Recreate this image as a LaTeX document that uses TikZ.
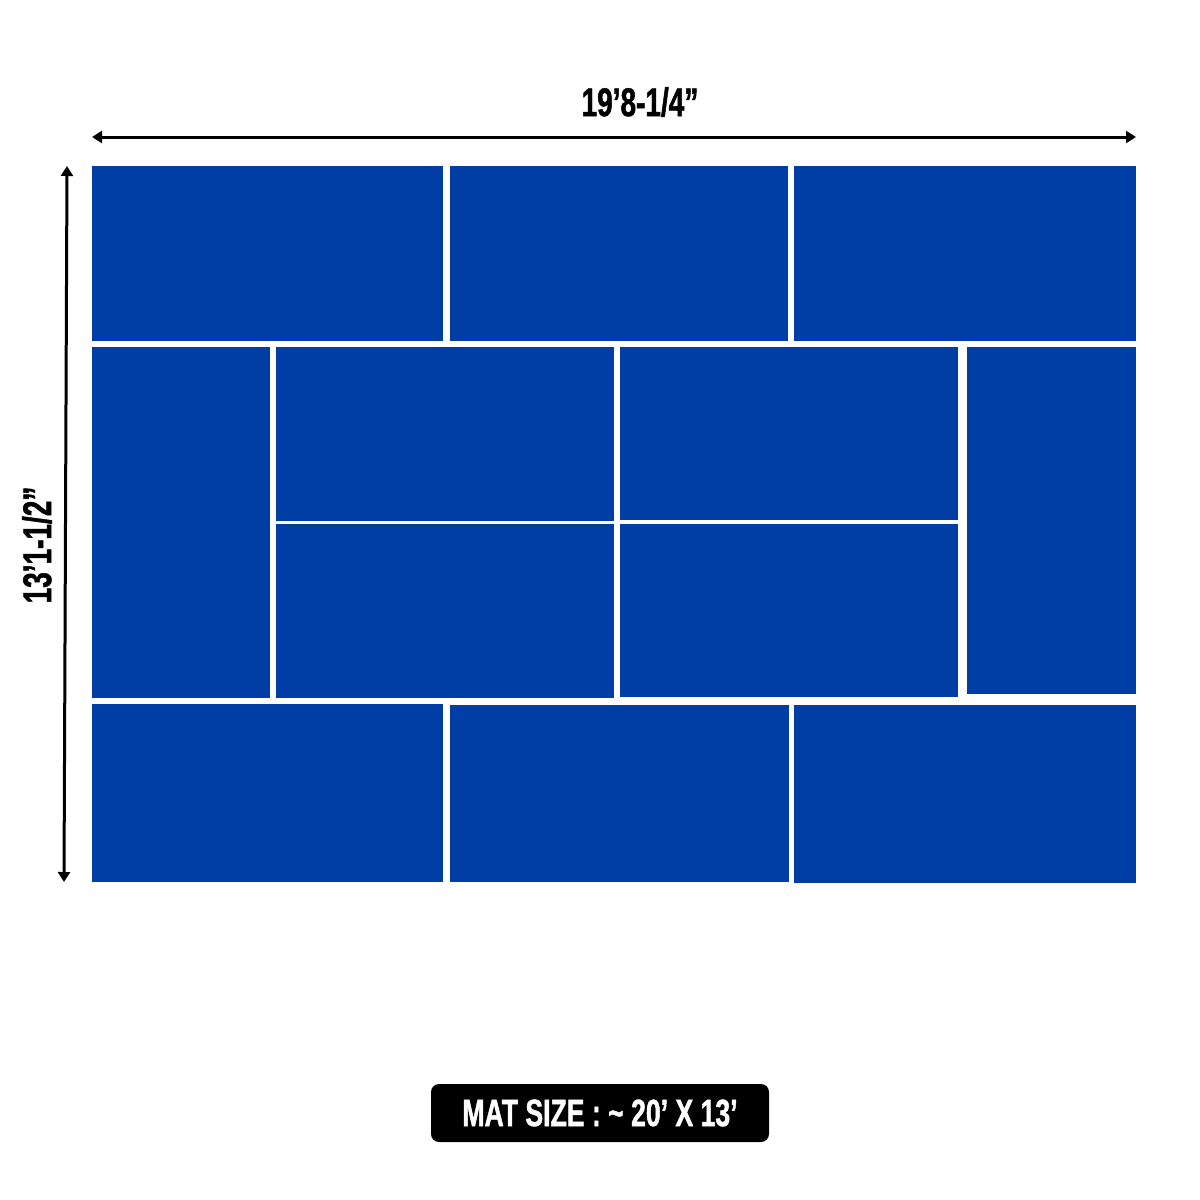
\documentclass[tikz,border=0pt]{standalone}
\usepackage{fontspec}
\newfontfamily\condfont[FakeStretch=0.70,FakeBold=1.2]{Liberation Sans}
\usetikzlibrary{arrows.meta}
\definecolor{matblue}{RGB}{0,62,166}
\tikzset{
  panel/.style={fill=matblue},
  dim/.style={line width=3pt, {Triangle[length=10pt,width=12pt]}-{Triangle[length=10pt,width=12pt]}},
  dimlabel/.style={font=\condfont\bfseries\fontsize{40}{40}\selectfont, text=black, inner sep=0pt}
}
\begin{document}
\begin{tikzpicture}[x=1pt,y=-1pt]
\useasboundingbox (0,0) rectangle (1200,1200);
\fill[white] (0,0) rectangle (1200,1200);
% top row
\fill[panel] (92,166) rectangle (443,341);
\fill[panel] (450,166) rectangle (788,341);
\fill[panel] (794,166) rectangle (1136,341);
% middle
\fill[panel] (92,347) rectangle (270,698);
\fill[panel] (276,347) rectangle (614,521);
\fill[panel] (620,347) rectangle (958,520);
\fill[panel] (967,347) rectangle (1136,694);
\fill[panel] (276,524) rectangle (614,698);
\fill[panel] (620,524) rectangle (958,697);
% bottom row
\fill[panel] (92,704) rectangle (443,882);
\fill[panel] (450,705) rectangle (789,882);
\fill[panel] (794,705) rectangle (1136,883);
% dimension arrows
\coordinate (hl) at (92,137);
\coordinate (hr) at (1136,137);
\draw[dim] (hl) -- (hr);
\coordinate (vt) at (67,166);
\coordinate (vb) at (64,882);
\draw[dim] (vt) -- (vb);
\node[dimlabel] (wlabel) at (640,102) {19’8-1/4”};
\node[dimlabel, rotate=90] (hlabel) at (37,545) {13’1-1/2”};
% bottom label
\node[fill=black, rounded corners=8pt, minimum width=338pt, minimum height=58pt, inner sep=0pt,
      text=white, font=\condfont\bfseries\fontsize{38}{38}\selectfont] (mat) at (600,1113) {MAT SIZE : \char"007E{} 20’ X 13’};
\end{tikzpicture}
\end{document}
